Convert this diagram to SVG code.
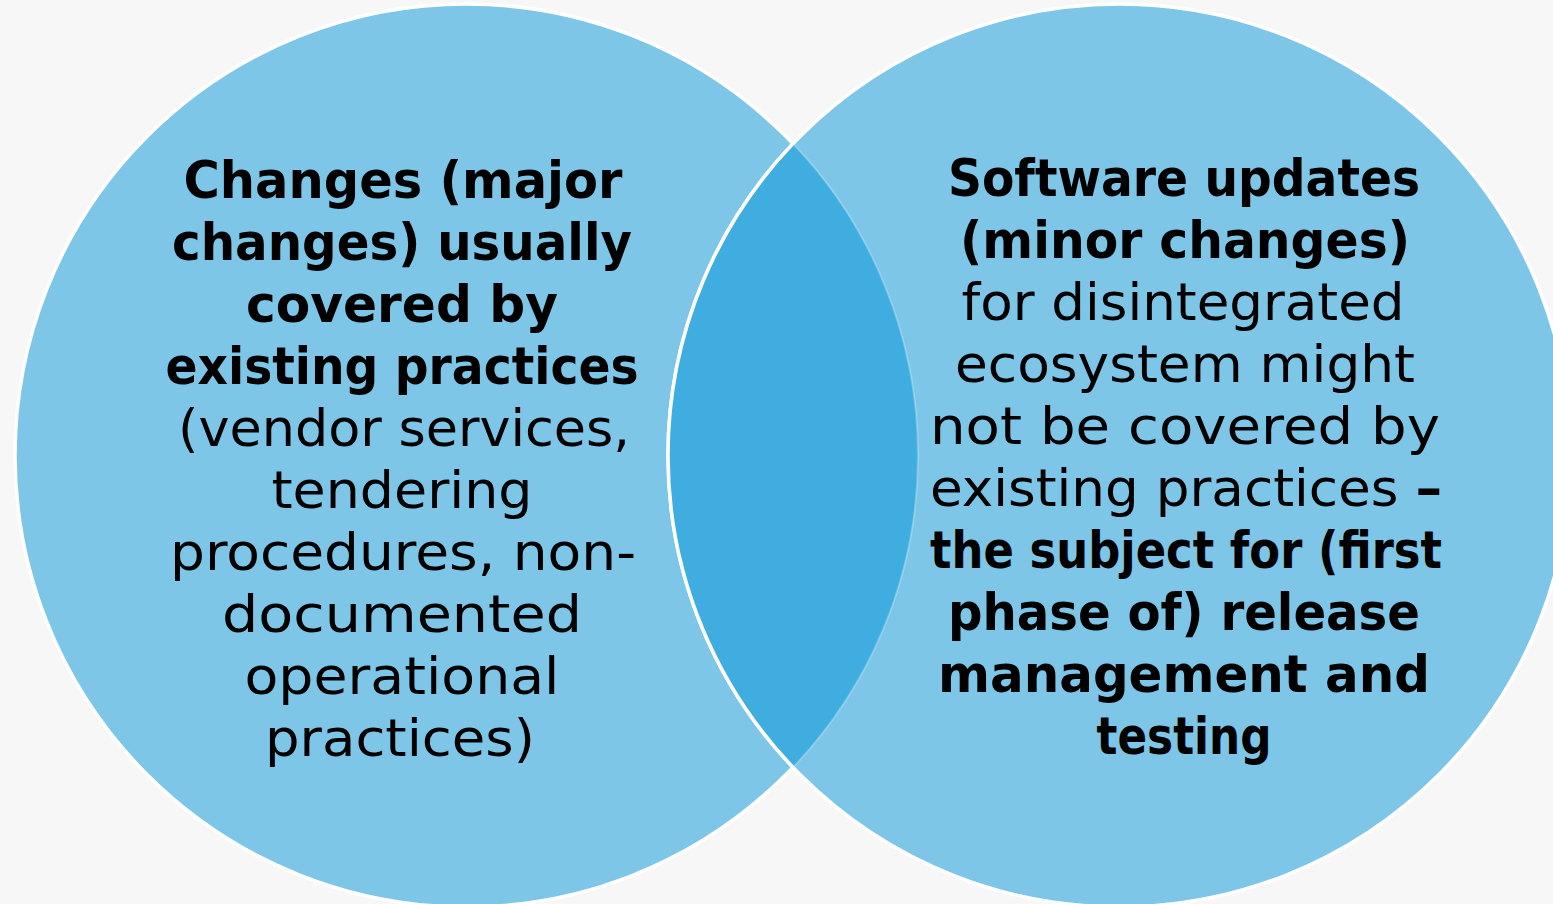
<svg xmlns="http://www.w3.org/2000/svg" width="1553" height="904" viewBox="0 0 1553 904">
<style>
.c{fill:#7DC6E7;stroke:#FFFFFF;stroke-width:3.5}
.t{font-family:"DejaVu Sans","Liberation Sans",sans-serif;font-size:51px;fill:#000;text-anchor:middle}
.b{font-weight:bold}
</style>
<rect x="0" y="0" width="1553" height="904" fill="#F7F7F7"/>
<g id="left-circle">
<circle class="c" cx="466.5" cy="455.5" r="451.5"/>
</g>
<g id="right-circle">
<circle class="c" cx="1119.5" cy="455.5" r="451.5"/>
</g>
<g id="overlap">
<path d="M793,143.65 A451.5,451.5 0 0 1 793,767.35 A451.5,451.5 0 0 1 793,143.65 Z" fill="#3FADDF"/>
<path d="M793,143.65 A451.5,451.5 0 0 1 793,767.35" fill="none" stroke="#FFFFFF" stroke-opacity="0.25" stroke-width="2"/>
<path d="M793,767.35 A451.5,451.5 0 0 1 793,143.65" fill="none" stroke="#FFFFFF" stroke-width="3.5"/>
</g>
<g id="left-text">
<text class="t b" x="403" y="198" textLength="439" lengthAdjust="spacingAndGlyphs">Changes (major</text>
<text class="t b" x="402" y="260" textLength="460" lengthAdjust="spacingAndGlyphs">changes) usually</text>
<text class="t b" x="402" y="322" textLength="312" lengthAdjust="spacingAndGlyphs">covered by</text>
<text class="t b" x="402" y="384" textLength="473" lengthAdjust="spacingAndGlyphs">existing practices</text>
<text class="t" x="404" y="446" textLength="452" lengthAdjust="spacingAndGlyphs">(vendor services,</text>
<text class="t" x="402" y="508" textLength="261" lengthAdjust="spacingAndGlyphs">tendering</text>
<text class="t" x="403" y="570" textLength="466" lengthAdjust="spacingAndGlyphs">procedures, non-</text>
<text class="t" x="402" y="632" textLength="360" lengthAdjust="spacingAndGlyphs">documented</text>
<text class="t" x="402" y="694" textLength="315" lengthAdjust="spacingAndGlyphs">operational</text>
<text class="t" x="400" y="756" textLength="270" lengthAdjust="spacingAndGlyphs">practices)</text>
</g>
<g id="right-text">
<text class="t b" x="1184" y="196" textLength="472" lengthAdjust="spacingAndGlyphs">Software updates</text>
<text class="t b" x="1185" y="258" textLength="450" lengthAdjust="spacingAndGlyphs">(minor changes)</text>
<text class="t" x="1183" y="320" textLength="443" lengthAdjust="spacingAndGlyphs">for disintegrated</text>
<text class="t" x="1185" y="382" textLength="460" lengthAdjust="spacingAndGlyphs">ecosystem might</text>
<text class="t" x="1185" y="444" textLength="510" lengthAdjust="spacingAndGlyphs">not be covered by</text>
<text class="t" x="1186" y="506" textLength="512" lengthAdjust="spacingAndGlyphs">existing practices <tspan class="b">–</tspan></text>
<text class="t b" x="1186" y="568" textLength="512" lengthAdjust="spacingAndGlyphs">the subject for (first</text>
<text class="t b" x="1184" y="630" textLength="472" lengthAdjust="spacingAndGlyphs">phase of) release</text>
<text class="t b" x="1184" y="692" textLength="492" lengthAdjust="spacingAndGlyphs">management and</text>
<text class="t b" x="1184" y="754" textLength="175" lengthAdjust="spacingAndGlyphs">testing</text>
</g>
</svg>
